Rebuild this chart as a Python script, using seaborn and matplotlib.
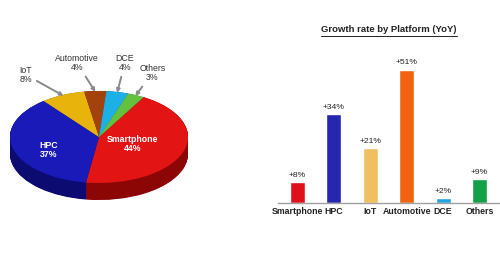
import numpy as np
import pandas as pd
import matplotlib
matplotlib.use("Agg")
import matplotlib.pyplot as plt
import seaborn as sns
from matplotlib.lines import Line2D

# ---- data ----
share_labels = ["Smartphone", "HPC", "IoT", "Automotive", "DCE", "Others"]
share_values = [44, 37, 8, 4, 4, 3]
share_colors = ["#e31414", "#1a1ab8", "#e8b40c", "#a3420c", "#1cb0e6", "#62c23e"]
share_side = ["#8c0606", "#0b0b72", "#9a7400", "#6a2604", "#0c7098", "#3a8a22"]

growth_labels = ["Smartphone", "HPC", "IoT", "Automotive", "DCE", "Others"]
growth_values = [8, 34, 21, 51, 2, 9]
growth_colors = ["#e0101a", "#2626b0", "#f0c060", "#f06410", "#22a4e0", "#14a048"]

sns.set_theme(style="white")
plt.rcParams["font.family"] = ["Liberation Sans", "DejaVu Sans"]

W, H = 500, 256
fig = plt.figure(figsize=(5, 2.56), dpi=100)

# ---- pie (3D look) ----
cx, cy, rx, ry = 99, 137, 89, 46
ax_l, ax_r, ax_t, ax_b = 0, 200, 40, 230
axp = fig.add_axes([ax_l / W, 1 - ax_b / H, (ax_r - ax_l) / W, (ax_b - ax_t) / H])
start = 60
depth = 0.37
for d in np.linspace(depth, 0.0, 40):
    axp.pie(share_values, colors=share_side, startangle=start, counterclock=False,
            center=(0, -d), radius=1.0, wedgeprops=dict(linewidth=0))
axp.pie(share_values, colors=share_colors, startangle=start, counterclock=False,
        center=(0, 0), radius=1.0, wedgeprops=dict(linewidth=0))
axp.set_aspect("auto")
axp.set_xlim((ax_l - cx) / rx, (ax_r - cx) / rx)
axp.set_ylim((cy - ax_b) / ry, (cy - ax_t) / ry)
axp.axis("off")

# inside labels
axp.text(0.38, -0.15, "Smartphone\n44%", color="white", fontsize=6.3, fontweight="bold",
         ha="center", va="center", linespacing=1.1)
axp.text(-0.57, -0.28, "HPC\n37%", color="white", fontsize=6.3, fontweight="bold",
         ha="center", va="center", linespacing=1.1)

# outside labels with leader arrows
cum = np.cumsum([0] + share_values)
mids = [start - 3.6 * (cum[i] + cum[i + 1]) / 2 for i in range(len(share_values))]
outside = {2: (-0.82, 1.35), 3: (-0.247, 1.61), 4: (0.29, 1.61), 5: (0.60, 1.39)}
for i, (tx, ty) in outside.items():
    a = np.deg2rad(mids[i])
    axp.annotate(f"{share_labels[i]}\n{share_values[i]}%",
                 xy=(np.cos(a) * 0.98, np.sin(a) * 0.98), xytext=(tx, ty),
                 ha="center", va="center", fontsize=6.3, color="#333333",
                 linespacing=1.05,
                 arrowprops=dict(arrowstyle="-|>", color="#8a8a8a", lw=1.4,
                                 mutation_scale=5, shrinkA=1, shrinkB=0))

# ---- bar chart ----
bx0, bx1 = 278, 500
base_y = 203
top_y = 46
axb = fig.add_axes([bx0 / W, 1 - base_y / H, (bx1 - bx0) / W, (base_y - top_y) / H])
df = pd.DataFrame({"platform": growth_labels, "growth": growth_values})
sns.barplot(data=df, x="platform", y="growth", hue="platform", palette=growth_colors,
            width=0.41, legend=False, ax=axb, saturation=1)
axb.set_xlim(-0.53, 5.56)
axb.set_ylim(0, 60)
axb.set_xlabel("")
axb.set_ylabel("")
axb.set_yticks([])
for s in ["top", "left", "right"]:
    axb.spines[s].set_visible(False)
axb.spines["bottom"].set_color("#a0a0a0")
axb.spines["bottom"].set_linewidth(1.0)
axb.tick_params(axis="x", length=0, pad=3, labelsize=6.3)
for lbl in axb.get_xticklabels():
    lbl.set_fontweight("bold")
    lbl.set_color("#222222")
for i, v in enumerate(growth_values):
    axb.text(i, v + 1.2, f"+{v}%", ha="center", va="bottom", fontsize=6.1, color="#222222")

# title with underline
title = fig.text(389 / W, 1 - 30 / H, "Growth rate by Platform (YoY)", ha="center",
                 va="center", fontsize=6.8, fontweight="bold", color="#222222")
fig.canvas.draw()
bb = title.get_window_extent()
yline = (bb.y0 - 1) / fig.bbox.height
fig.add_artist(Line2D([bb.x0 / fig.bbox.width, bb.x1 / fig.bbox.width], [yline, yline],
                      color="#222222", lw=0.7))

fig.savefig("out.png", dpi=100, facecolor="white")
